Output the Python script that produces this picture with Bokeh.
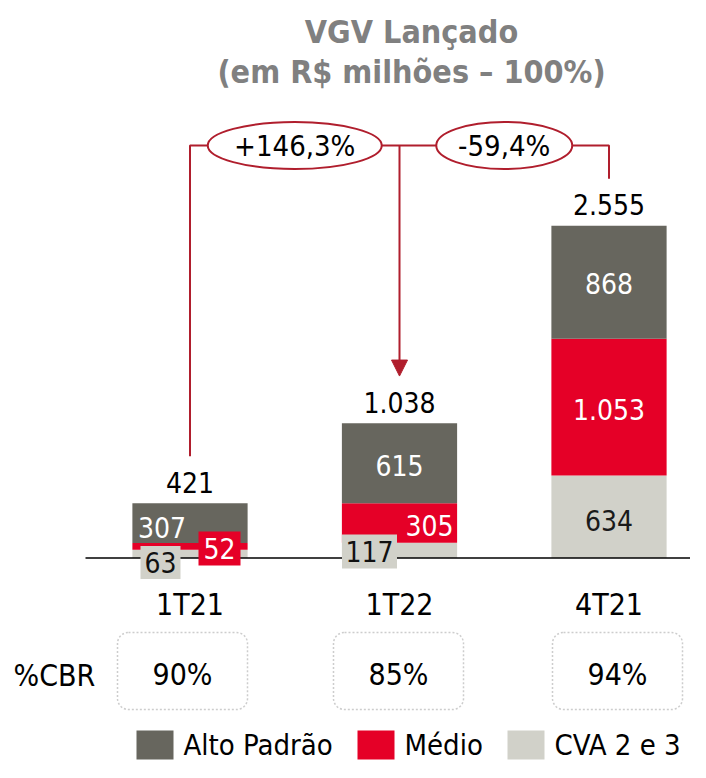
from bokeh.plotting import figure
from bokeh.models import Range1d, ColumnDataSource, BoxAnnotation, Arrow, NormalHead
from bokeh.core.properties import value
from bokeh.embed import file_html
from bokeh.resources import INLINE

# ---------------- data ----------------
periods = ["1T21", "1T22", "4T21"]
alto = [307, 615, 868]
medio = [52, 305, 1053]
cva = [63, 117, 634]
totals = [421, 1038, 2555]
cbr = [90, 85, 94]
growth = [146.3, -59.4]
series_names = ["Alto Padrão", "Médio", "CVA 2 e 3"]
title_lines = ["VGV Lançado", "(em R$ milhões – 100%)"]
cbr_label = "%CBR"

# ---------------- style / layout ----------------
GRAY = "#67665E"
RED = "#E50027"
LIGHT = "#D1D1C9"
ANN = "#B01E2D"
FONT = "DejaVu Sans Condensed"
W, H = 690, 762
X0_PAGE, DX_PAGE = 189.5, 209.5      # x of first category, spacing (px)
Y0_PAGE, PX_PER_UNIT = 557.5, 0.13   # y of zero (px), px per R$ mi


def X(page_x):
    return (page_x - X0_PAGE) / DX_PAGE


def Y(page_y):
    return (Y0_PAGE - page_y) / PX_PER_UNIT


def dx(px):
    return px / DX_PAGE


def dy(px):
    return px / PX_PER_UNIT


def br(v):
    return f"{v:,}".replace(",", ".")


xs = list(range(len(periods)))

p = figure(width=W, height=H, x_range=Range1d(X(0), X(W)),
           y_range=Range1d(Y(H), Y(0)), output_backend="svg",
           toolbar_location=None, min_border=0,
           x_axis_location=None, y_axis_location=None)
p.grid.visible = False
p.outline_line_color = None

src = ColumnDataSource(dict(x=xs, alto=alto, medio=medio, cva=cva))
rs = p.vbar_stack(["cva", "medio", "alto"], x="x", width=0.55,
                  color=[LIGHT, RED, GRAY], line_color=None, source=src)


def txt(size="28px"):
    return dict(text_font=value(FONT), text_font_size=size,
                text_align="center", text_baseline="middle")


# labels inside segments
lab_x, lab_y, lab_t, lab_c = [], [], [], []
i = 2
lab_x += [i, i, i]
lab_y += [cva[i] / 2 - dy(4), cva[i] + medio[i] / 2 - dy(2),
          cva[i] + medio[i] + alto[i] / 2 - dy(1)]
lab_t += [br(cva[i]), br(medio[i]), br(alto[i])]
lab_c += ["#1A1A1A", "white", "white"]
i = 1
lab_x += [i, i + dx(30)]
lab_y += [cva[i] + medio[i] + alto[i] / 2 - dy(2), cva[i] + medio[i] / 2 - dy(3)]
lab_t += [br(alto[i]), br(medio[i])]
lab_c += ["white", "white"]
i = 0
lab_x += [i - dx(28)]
lab_y += [cva[i] + medio[i] + alto[i] / 2 - dy(4)]
lab_t += [br(alto[i])]
lab_c += ["white"]
p.text(x=lab_x, y=lab_y, text=lab_t, text_color=lab_c, **txt())

# baseline
p.segment(x0=[X(85)], y0=[0], x1=[X(706)], y1=[0], line_color="black", line_width=1.6)

# callout boxes for small segments
bx = [0 - dx(29.5), 0 + dx(29.5), 1 - dx(30)]
by = [dy(-4.5), dy(9.5), dy(6.5)]
bw = [dx(40), dx(42), dx(55)]
bh = [dy(33), dy(34), dy(34)]
bt = [br(cva[0]), br(medio[0]), br(cva[1])]
bf = [LIGHT, RED, LIGHT]
btc = ["#111111", "white", "#111111"]
p.rect(x=bx, y=by, width=bw, height=bh, fill_color=bf, line_color=None)
p.text(x=bx, y=by, text=bt, text_color=btc, **txt())

# totals above bars
p.text(x=xs, y=[t + dy(21) for t in totals], text=[br(t) for t in totals],
       text_color="black", **txt())

# category labels
p.text(x=xs, y=[Y(604)] * len(xs), text=periods, text_color="black", **txt("30px"))

# growth brackets
level = Y(145)
gap = dy(47)
p.line(x=[0, 0, 2, 2], y=[totals[0] + gap, level, level, totals[2] + gap],
       line_color=ANN, line_width=2)
p.add_layout(Arrow(end=NormalHead(size=16, fill_color=ANN, line_color=ANN, line_width=1),
                   x_start=1, y_start=level, x_end=1, y_end=totals[1] + gap,
                   line_color=ANN, line_width=2))
ex = [0.5, 1.5]
p.ellipse(x=ex, y=[level, level], width=[dx(174), dx(136)], height=[dy(47), dy(47)],
          fill_color="white", line_color=ANN, line_width=2)
p.text(x=ex, y=[level, level],
       text=[f"{g:+.1f}%".replace(".", ",") for g in growth],
       text_color="black", **txt("29px"))

# title
p.text(x=[X(411), X(411)], y=[Y(31), Y(71)], text=title_lines, text_color="#808080",
       text_font=value(FONT), text_font_size="32px", text_font_style="bold",
       text_align="center", text_baseline="middle")

# %CBR row
cbr_centers = [182, 398, 617]
for c in cbr_centers:
    p.add_layout(BoxAnnotation(left=X(c - 65), right=X(c + 65), top=Y(632), bottom=Y(709),
                               border_radius=11, fill_alpha=0, line_color="#5A5A5A",
                               line_width=1.5, line_dash="2 2"))
p.text(x=[X(c) for c in cbr_centers], y=[Y(674)] * 3, text=[f"{v}%" for v in cbr],
       text_color="black", **txt("30px"))
p.text(x=[X(13)], y=[Y(675)], text=[cbr_label], text_color="black",
       text_font=value(FONT), text_font_size="30px", text_align="left",
       text_baseline="middle")

# legend (drawn manually: squares + labels)
leg_colors = [GRAY, RED, LIGHT]
leg_left = [136, 357, 507]
SQ = 37
leg_top, leg_bot = 730, 759
p.quad(left=[X(l) for l in leg_left], right=[X(l + SQ) for l in leg_left],
       top=[Y(leg_top)] * 3, bottom=[Y(leg_bot)] * 3, fill_color=leg_colors, line_color=None)
p.text(x=[X(l + SQ + 10) for l in leg_left], y=[Y((leg_top + leg_bot) / 2)] * 3,
       text=series_names, text_color="black", text_font=value(FONT),
       text_font_size="29px", text_align="left", text_baseline="middle")

open("out.html", "w").write(file_html(p, INLINE))
